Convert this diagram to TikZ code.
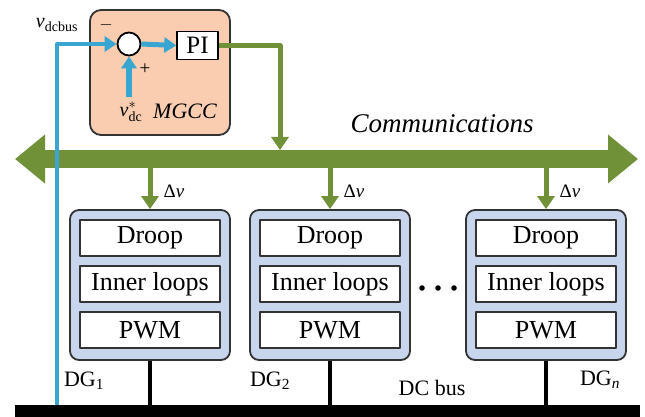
\documentclass[tikz,border=0pt]{standalone}
\usepackage{fontspec}
\setmainfont{Liberation Serif}
\usepackage{tikz}
\usetikzlibrary{arrows,arrows.meta,positioning}
\definecolor{commgreen}{rgb}{0.44,0.57,0.22}
\definecolor{fbblue}{rgb}{0.22,0.65,0.82}
\definecolor{mgccfill}{rgb}{0.98,0.80,0.69}
\definecolor{dgfill}{rgb}{0.78,0.84,0.93}
\definecolor{edgegray}{rgb}{0.2,0.2,0.2}
\tikzset{
  dgbox/.style={draw=edgegray,line width=1.8pt,fill=dgfill,rounded corners=9pt,minimum width=160pt,minimum height=150pt,inner sep=0pt},
  inbox/.style={draw=edgegray,line width=1.5pt,fill=white,minimum width=140pt,minimum height=36pt,inner sep=0pt,font=\fontsize{26}{30}\selectfont},
  mgccbox/.style={draw=edgegray,line width=1.8pt,fill=mgccfill,rounded corners=11pt,minimum width=140pt,minimum height=125pt,inner sep=0pt},
  sumnode/.style={circle,draw=black,line width=1.8pt,fill=white,minimum size=23pt,inner sep=0pt},
  pibox/.style={draw=black,line width=1.5pt,fill=white,minimum width=41pt,minimum height=28pt,inner sep=0pt,font=\fontsize{25}{28}\selectfont},
  busbar/.style={fill=black,minimum width=625pt,minimum height=12pt,inner sep=0pt},
  commbar/.style={draw=commgreen,line width=18pt,{Triangle[length=30pt,width=47pt]}-{Triangle[length=30pt,width=47pt]}},
  greenarr/.style={draw=commgreen,line width=5pt,-{Triangle[length=13pt,width=17pt]}},
  bluearr/.style={draw=fbblue,line width=5pt,-{Triangle[length=12pt,width=15pt]}},
  stem/.style={draw=black,line width=4pt},
  labtext/.style={inner sep=0pt,font=\fontsize{22}{24}\selectfont},
  smalltext/.style={inner sep=0pt,font=\fontsize{19}{21}\selectfont}
}
\begin{document}
\begin{tikzpicture}[line join=round,x=1pt,y=-1pt]
\useasboundingbox (0,0) rectangle (645,417);
% DC bus and communication line
\node[busbar] (bus) at (327.5,411) {};
\coordinate (commL) at (15,159);
\coordinate (commR) at (638,159);
\draw[commbar] (commL) -- (commR);
\node[labtext,font=\fontsize{27}{30}\selectfont\itshape] (comm) at (442,124) {Communications};
% central controller
\node[mgccbox] (mgcc) at (160,72.5) {};
\node[sumnode] (sum) at (129,44) {};
\node[pibox] (pi) at (197.5,45.5) {PI};
\coordinate (fb) at (57,405);
\coordinate (ref) at (129,97);
\coordinate (commtop) at (280,150);
\draw[bluearr,line width=4pt] (fb) |- (sum.west);
\draw[bluearr,line width=6pt] (ref) -- (sum.south);
\draw[bluearr] (sum.east) -- (pi.west);
\draw[greenarr] (pi.east) -| (commtop);
\node[labtext,font=\fontsize{20}{22}\selectfont] (vbus) at (57,25) {\textit{v}\textsubscript{dcbus}};
\node[smalltext] (minus) at (106,25) {$-$};
\node[smalltext] (plus) at (145,69) {+};
\node[labtext,font=\fontsize{20}{22}\selectfont] (vref) at (131,112) {$\mathit{v}^{*}_{\mathrm{dc}}$};
\node[labtext,font=\fontsize{22}{24}\selectfont\itshape] (mgcclab) at (185,111) {MGCC};
% local controllers
\foreach \i/\x in {1/150,2/330,3/546}{
  \node[dgbox] (dg\i) at (\x,285) {};
  \node[inbox] (droop\i) at (\x,238) {Droop};
  \node[inbox] (loops\i) at (\x,284) {Inner loops};
  \node[inbox] (pwm\i) at (\x,330) {PWM};
  \coordinate (tap\i) at (\x,168);
  \draw[greenarr] (tap\i) -- (dg\i.north);
  \node[smalltext] (dv\i) at (\x+24,191) {Δ\textit{v}};
  \draw[stem] (dg\i.south) -- (dg\i.south |- bus.north);
}
\foreach \x in {422,438,454}
  \fill (\x,288) circle (2.8pt);
\node[labtext] (dglab1) at (84,381) {DG\textsubscript{1}};
\node[labtext] (dglab2) at (270,381) {DG\textsubscript{2}};
\node[labtext] (buslab) at (432,388) {DC bus};
\node[labtext] (dglab3) at (600,380) {DG\textsubscript{\textit{n}}};
\end{tikzpicture}
\end{document}
